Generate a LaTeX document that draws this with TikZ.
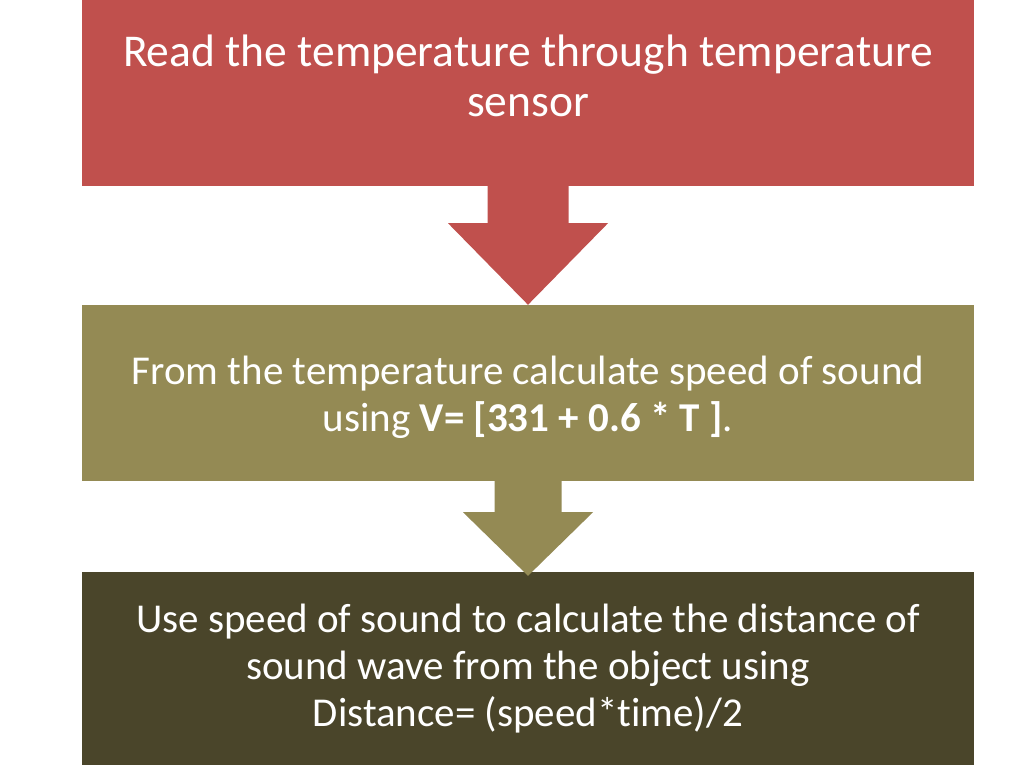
\documentclass[tikz,border=0pt]{standalone}
\usepackage{fontspec}
\setmainfont{Carlito}[Ligatures=NoCommon]
\usetikzlibrary{positioning,calc}
\definecolor{readred}{HTML}{C0504D}
\definecolor{calcolive}{HTML}{948A54}
\definecolor{distdark}{HTML}{4A452A}
\begin{document}
\begin{tikzpicture}[x=1pt, y=-1pt,
    stepbox/.style={rectangle, inner sep=0, minimum width=892pt, text=white,
      align=center, font=\fontsize{41}{47}\selectfont}]
  \useasboundingbox (0,0) rectangle (1024,768);
  % boxes
  \node [stepbox, fill=readred, minimum height=220pt,
    font=\fontsize{45.5}{50}\selectfont] (read) at (528,76)
    {Read the temperature through temperature\\sensor};
  \node [stepbox, fill=calcolive, minimum height=176pt] (speed) at (528,393)
    {\\[-9pt]From the temperature calculate speed of sound\\using \textbf{V= [331 + 0.6 * T ]}.};
  \node [stepbox, fill=distdark, minimum height=193pt] (dist) at (528,668.5)
    {Use speed of sound to calculate the distance of\\sound wave from the object using\\Distance= (speed*time)/2};
  % arrows
  \fill [readred] ($(read.south)+(-40.5,0)$) -- ($(read.south)+(40.5,0)$)
    -- ($(read.south)+(40.5,37)$) -- ($(read.south)+(80,37)$)
    -- (speed.north) -- ($(read.south)+(-80,37)$)
    -- ($(read.south)+(-40.5,37)$) -- cycle;
  \fill [calcolive] ($(speed.south)+(-33.5,0)$) -- ($(speed.south)+(33.5,0)$)
    -- ($(speed.south)+(33.5,31)$) -- ($(speed.south)+(65,31)$)
    -- ($(dist.north)+(0,4)$) -- ($(speed.south)+(-65,31)$)
    -- ($(speed.south)+(-33.5,31)$) -- cycle;
\end{tikzpicture}
\end{document}
